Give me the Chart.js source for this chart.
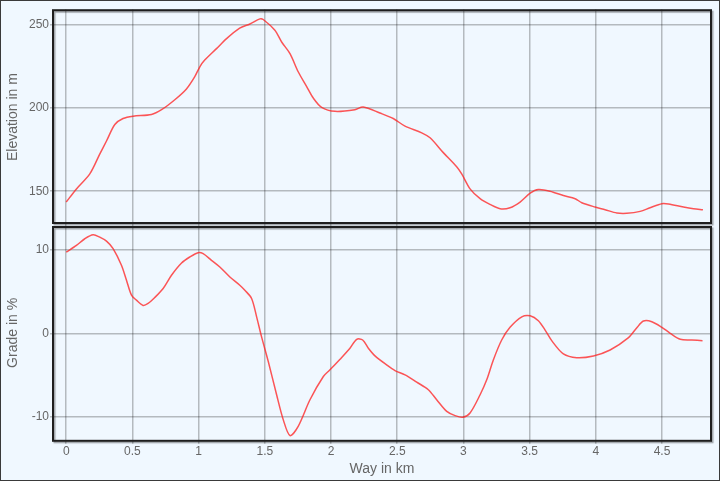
<!DOCTYPE html>
<html>
<head>
<meta charset="utf-8">
<script src="https://cdn.jsdelivr.net/npm/chart.js@4"></script>
<style>
  body { margin: 0; background: #f0f8ff; }
  #wrap { width: 718px; height: 479px; border: 1px solid #3a3a3a; background: #f0f8ff; }
</style>
</head>
<body>
<div id="wrap"><canvas id="profile" width="718" height="479"></canvas></div>
<script>
// elevation profile
const elevKm = [0, 0.077, 0.178, 0.253, 0.304, 0.367, 0.429, 0.505, 0.644, 0.72, 0.82, 0.908, 0.971, 1.009, 1.046, 1.135, 1.211, 1.31, 1.387, 1.463, 1.488, 1.576, 1.627, 1.69, 1.752, 1.816, 1.866, 1.929, 2.03, 2.18, 2.243, 2.369, 2.47, 2.559, 2.685, 2.748, 2.848, 2.949, 2.987, 3.05, 3.126, 3.2, 3.277, 3.352, 3.428, 3.504, 3.566, 3.654, 3.755, 3.844, 3.894, 3.995, 4.07, 4.159, 4.234, 4.335, 4.41, 4.499, 4.549, 4.662, 4.738, 4.809];
const elevM = [143.5, 151.4, 160.4, 172.3, 180.2, 190.1, 193.7, 195.1, 196.1, 199, 205, 211.5, 218.9, 224.8, 228.8, 235.7, 241.7, 248, 250.5, 253.6, 253.2, 246.7, 239.7, 232.7, 221.8, 212.9, 206, 200.4, 198, 199, 200.6, 197, 193.7, 189.1, 185.1, 182.1, 173.2, 164.7, 160.4, 151.4, 145.5, 142.1, 139.5, 140.1, 143.5, 148.8, 151, 150, 147.4, 145.5, 143.1, 140.5, 138.9, 136.9, 136.7, 137.9, 140.1, 142.5, 142.3, 140.5, 139.5, 138.9];

// grade profile
const gradeKm = [0, 0.077, 0.14, 0.203, 0.253, 0.304, 0.354, 0.417, 0.455, 0.493, 0.53, 0.58, 0.618, 0.669, 0.732, 0.795, 0.871, 0.933, 0.996, 1.034, 1.097, 1.16, 1.236, 1.311, 1.349, 1.4, 1.438, 1.475, 1.526, 1.589, 1.639, 1.69, 1.752, 1.841, 1.942, 1.992, 2.068, 2.143, 2.194, 2.239, 2.282, 2.332, 2.42, 2.483, 2.559, 2.647, 2.735, 2.798, 2.874, 2.937, 2.995, 3.05, 3.126, 3.176, 3.226, 3.289, 3.352, 3.441, 3.504, 3.566, 3.617, 3.667, 3.755, 3.856, 3.982, 4.108, 4.247, 4.31, 4.36, 4.423, 4.499, 4.562, 4.638, 4.726, 4.806];
const gradePct = [9.75, 10.55, 11.35, 11.83, 11.54, 11.06, 10.16, 8.16, 6.37, 4.58, 3.98, 3.35, 3.58, 4.3, 5.38, 6.97, 8.44, 9.16, 9.68, 9.56, 8.76, 7.96, 6.76, 5.77, 5.17, 4.18, 1.98, -0.4, -3.39, -7.37, -10.36, -12.27, -11.16, -7.97, -5.18, -4.38, -3.11, -1.79, -0.72, -0.8, -1.79, -2.71, -3.79, -4.47, -4.98, -5.86, -6.77, -7.97, -9.37, -9.88, -10.08, -9.56, -7.37, -5.58, -3.19, -0.8, 0.72, 1.98, 2.1, 1.51, 0.39, -0.88, -2.47, -2.92, -2.71, -2, -0.52, 0.67, 1.47, 1.39, 0.72, 0, -0.72, -0.8, -0.88];

const xTicks = [0, 0.5, 1, 1.5, 2, 2.5, 3, 3.5, 4, 4.5];
const elevTicks = [150, 200, 250];
const gradeTicks = [-10, 0, 10];

const lineColor = 'rgba(255, 30, 30, 0.75)';
const gridColor = 'rgba(0, 0, 0, 0.25)';
const textColor = '#666';
const fontFamily = 'Arial, "Liberation Sans"';

function pairs(xs, ys) {
    return xs.map((x, i) => ({ x: x, y: ys[i] }));
}

// draws a framed box around each stacked panel
const panelFrames = {
    id: 'panelFrames',
    afterDatasetsDraw(chart) {
        const ctx = chart.ctx;
        const area = chart.chartArea;
        const top = chart.scales.yElev;
        const bot = chart.scales.yGrade;
        ctx.save();
        ctx.lineWidth = 2;
        ctx.strokeStyle = '#1e1e1e';
        ctx.shadowColor = 'rgba(0, 0, 0, 0.35)';
        ctx.shadowOffsetX = 1.5;
        ctx.shadowOffsetY = 1.5;
        ctx.shadowBlur = 1;
        ctx.strokeRect(area.left, top.top + 1, area.right - area.left, top.bottom - top.top - 3);
        ctx.strokeRect(area.left, bot.top + 2, area.right - area.left, bot.bottom - bot.top - 2);
        ctx.restore();
    }
};

const fixedTicks = list => scale => {
    scale.ticks = list.map(v => ({ value: v }));
};

new Chart(document.getElementById('profile'), {
    type: 'line',
    data: {
        datasets: [{
            label: 'Elevation',
            data: pairs(elevKm, elevM),
            yAxisID: 'yElev',
            borderColor: lineColor,
            borderWidth: 1.5,
            pointRadius: 0,
            tension: 0.3
        }, {
            label: 'Grade',
            data: pairs(gradeKm, gradePct),
            yAxisID: 'yGrade',
            borderColor: lineColor,
            borderWidth: 1.5,
            pointRadius: 0,
            tension: 0.3
        }]
    },
    options: {
        responsive: false,
        animation: false,
        layout: { padding: { top: 6, right: 8, left: 0, bottom: 0 } },
        plugins: {
            legend: { display: false },
            tooltip: { enabled: false }
        },
        scales: {
            x: {
                type: 'linear',
                min: -0.1,
                max: 4.87,
                afterBuildTicks: fixedTicks(xTicks),
                border: { display: false },
                grid: { color: gridColor, lineWidth: 1.5, tickLength: 3 },
                ticks: { color: textColor, font: { size: 12, family: fontFamily }, padding: 1, maxRotation: 0, callback: v => String(v) },
                title: { display: true, text: 'Way in km', color: textColor, font: { size: 14, family: fontFamily }, padding: { top: 1, bottom: 2 } }
            },
            yElev: {
                type: 'linear',
                position: 'left',
                stack: 'panels',
                stackWeight: 1,
                weight: 1,
                min: 129.7,
                max: 259.4,
                afterBuildTicks: fixedTicks(elevTicks),
                afterFit: s => { s.width = 52; },
                border: { display: false },
                grid: { color: gridColor, lineWidth: 1.5, tickLength: 3 },
                ticks: { color: textColor, font: { size: 12, family: fontFamily }, padding: 1 },
                title: { display: true, text: 'Elevation in m', color: textColor, font: { size: 14, family: fontFamily } }
            },
            yGrade: {
                type: 'linear',
                position: 'left',
                stack: 'panels',
                stackWeight: 1,
                weight: 0,
                min: -12.9,
                max: 13,
                afterBuildTicks: fixedTicks(gradeTicks),
                afterFit: s => { s.width = 52; },
                border: { display: false },
                grid: { color: gridColor, lineWidth: 1.5, tickLength: 3 },
                ticks: { color: textColor, font: { size: 12, family: fontFamily }, padding: 1 },
                title: { display: true, text: 'Grade in %', color: textColor, font: { size: 14, family: fontFamily } }
            }
        }
    },
    plugins: [panelFrames]
});
</script>
</body>
</html>
